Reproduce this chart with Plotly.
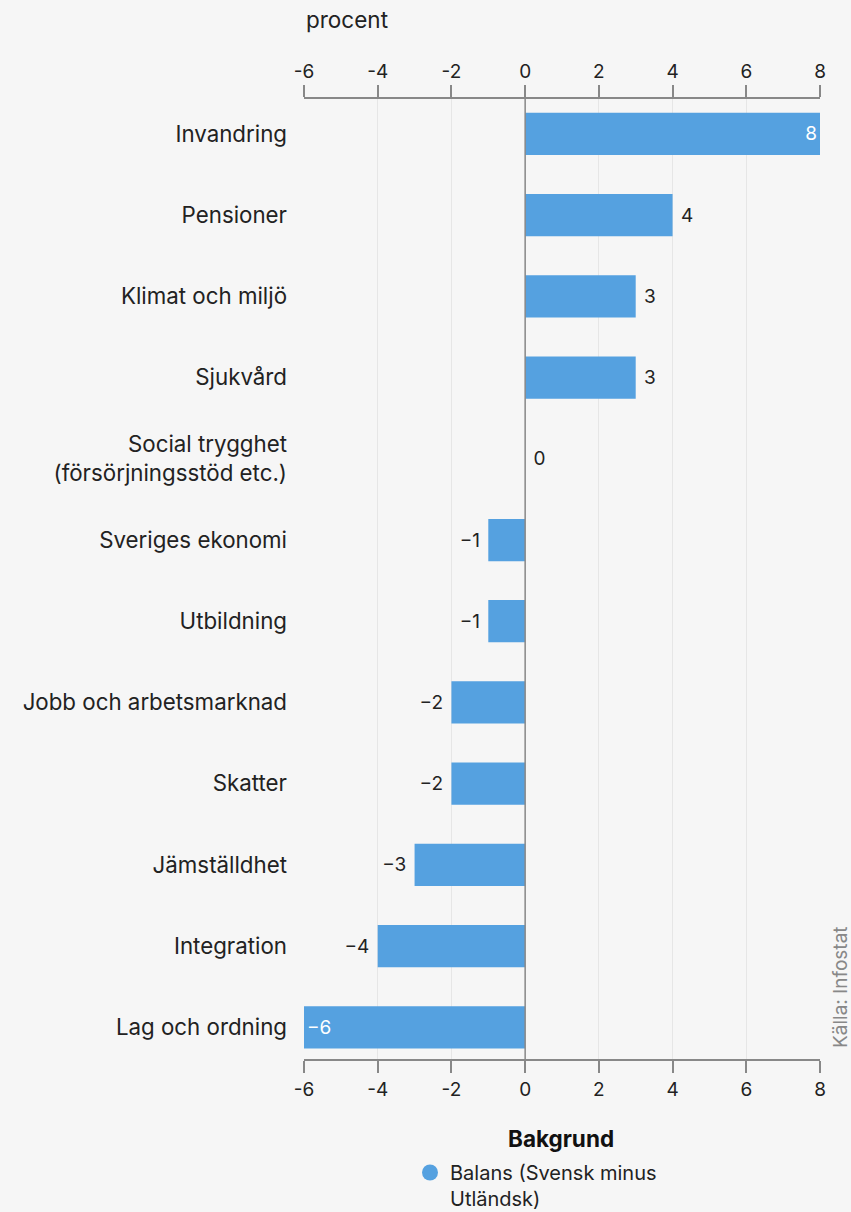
import plotly.graph_objects as go

categories = [
    "Invandring", "Pensioner", "Klimat och miljö", "Sjukvård",
    "Social trygghet<br>(försörjningsstöd etc.)", "Sveriges ekonomi",
    "Utbildning", "Jobb och arbetsmarknad", "Skatter", "Jämställdhet",
    "Integration", "Lag och ordning",
]
values = [8, 4, 3, 3, 0, -1, -1, -2, -2, -3, -4, -6]
series_name = "Balans (Svensk minus<br>Utländsk)"
legend_title = "Bakgrund"
tick_vals = [-6, -4, -2, 0, 2, 4, 6, 8]

BAR = "#55a1e0"
BG = "#f6f6f6"
FONT = "Inter"
NB = "\u00a0"
inside = [v in (8, -6) for v in values]
labels = []
for v, ins in zip(values, inside):
    s = ("−" + str(abs(v))) if v < 0 else str(v)
    if ins:
        labels.append(s)
    elif v < 0:
        labels.append(s + NB)
    else:
        labels.append(NB + s)

fig = go.Figure()
fig.add_trace(go.Bar(
    y=categories, x=values, orientation="h",
    marker=dict(color=BAR, line=dict(width=0)),
    width=0.52,
    text=labels,
    textposition=["inside" if i else "outside" for i in inside],
    insidetextanchor="end",
    textfont=dict(size=19, family=FONT, color=["white" if i else "#222" for i in inside]),
    cliponaxis=False,
    showlegend=False,
    hoverinfo="skip",
))
fig.add_trace(go.Scatter(
    x=[None], y=[None], mode="markers", name=series_name,
    marker=dict(symbol="circle", size=17, color=BAR),
    showlegend=True,
))
fig.add_trace(go.Scatter(x=[None], y=[None], xaxis="x2", showlegend=False))

axis_common = dict(
    range=[-6, 8], tickvals=tick_vals, ticktext=[str(t) for t in tick_vals],
    ticks="outside", ticklen=12, tickcolor="#888", tickwidth=1.5,
    showline=True, linecolor="#888", linewidth=1.5,
    tickfont=dict(size=19, family=FONT, color="#222"),
    showgrid=True, gridcolor="#e6e6e6", gridwidth=1,
    zeroline=False,
)
fig.update_layout(
    width=851, height=1212,
    paper_bgcolor=BG, plot_bgcolor=BG,
    margin=dict(l=304, r=31, t=99, b=153, autoexpand=False),
    font=dict(family=FONT, size=19, color="#222"),
    xaxis=dict(**axis_common, side="bottom"),
    xaxis2=dict(**axis_common, side="top", overlaying="x", matches="x"),
    yaxis=dict(range=[11.39, -0.43], showgrid=False, zeroline=False,
               ticks="", ticklabelstandoff=16,
               tickfont=dict(size=22.3, family=FONT, color="#222")),
    legend=dict(
        orientation="h", x=(410 - 304) / 516, xanchor="left",
        yref="container", y=1 - 1153 / 1212, yanchor="top",
        valign="top",
        font=dict(size=20, family=FONT, color="#222"),
        bgcolor="rgba(0,0,0,0)",
    ),
    shapes=[dict(type="line", xref="x", yref="paper", x0=0, x1=0, y0=0, y1=1,
                 line=dict(color="#888", width=1.5), layer="above")],
    annotations=[
        dict(text="procent", xref="paper", yref="paper", x=0, y=1, yshift=64,
             xanchor="left", yanchor="bottom", showarrow=False,
             font=dict(size=22.5, family=FONT, color="#222")),
        dict(text="<b>" + legend_title + "</b>", xref="paper", yref="paper",
             x=(561 - 304) / 516, y=0, yshift=-(1138 - 1059), xanchor="center",
             yanchor="middle", showarrow=False,
             font=dict(size=22.5, family=FONT, color="#111")),
        dict(text="Källa: Infostat", xref="paper", yref="paper", x=1, y=0,
             xshift=20, yshift=9, xanchor="center", yanchor="bottom", textangle=-90,
             showarrow=False, font=dict(size=19, family=FONT, color="#888")),
    ],
)
fig.write_html(
    "out.html",
    config={"displayModeBar": False},
    post_script="document.body.style.margin='0';document.body.style.background='%s';" % BG,
)
